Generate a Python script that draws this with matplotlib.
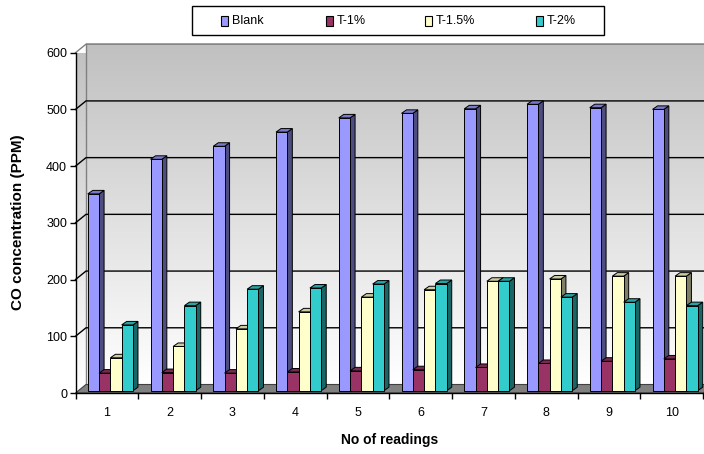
import numpy as np
import matplotlib
matplotlib.use("Agg")
import matplotlib.pyplot as plt
from matplotlib.patches import Polygon, Rectangle
from matplotlib.lines import Line2D

plt.rcParams["font.family"] = ["Liberation Sans", "DejaVu Sans"]

# ---- data -------------------------------------------------------------
readings = [1, 2, 3, 4, 5, 6, 7, 8, 9, 10]
series_names = ["Blank", "T-1%", "T-1.5%", "T-2%"]
blank = [347, 408, 431, 456, 481, 489, 497, 505, 499, 496]
t_1 = [31, 32, 31, 33, 35, 37, 41, 48, 52, 56]
t_1_5 = [58, 78, 109, 139, 165, 178, 193, 197, 202, 202]
t_2 = [116, 150, 179, 181, 188, 189, 193, 165, 156, 150]
y_ticks = [0, 100, 200, 300, 400, 500, 600]

series_values = [blank, t_1, t_1_5, t_2]
front_colors = ["#9999FF", "#993366", "#FFFFCC", "#33CCCC"]
side_colors = ["#4D4D80", "#4D1A33", "#808066", "#1A6666"]
top_colors = ["#7A7ACC", "#7A2952", "#CCCCA3", "#29A3A3"]

# ---- figure / axes ----------------------------------------------------
W, H = 704, 454
fig = plt.figure(figsize=(W / 100, H / 100), dpi=100)
ax_left, ax_right, ax_bottom, ax_top = 75.5, 703.0, 393.0, 52.7
ax = fig.add_axes([ax_left / W, 1 - ax_bottom / H,
                   (ax_right - ax_left) / W, (ax_bottom - ax_top) / H])
x0, x1 = 0.5, len(readings) + 0.5
ax.set_xlim(x0, x1)
ax.set_ylim(0, 600)

# pixel -> data conversion
ux = (x1 - x0) / (ax_right - ax_left)
uy = 600.0 / (ax_bottom - ax_top)

# wall depth (perspective offset)
wdx, wdy = 10.5 * ux, 8.5 * uy

# back wall with vertical gradient
grad = np.linspace(192, 255, 256)[:, None] / 255.0
grad_img = np.dstack([grad, grad, grad])
back = ax.imshow(grad_img, extent=(x0 + wdx, x1 + 3 * wdx, wdy, 600 + wdy),
                 origin="upper", aspect="auto", zorder=0, clip_on=False,
                 interpolation="bilinear")
# side wall, same gradient clipped to a parallelogram
side_poly = Polygon([(x0, 0), (x0, 600), (x0 + wdx, 600 + wdy), (x0 + wdx, wdy)],
                    closed=True, facecolor="none", edgecolor="none",
                    transform=ax.transData)
side = ax.imshow(grad_img, extent=(x0, x0 + wdx, 0, 600 + wdy),
                 origin="upper", aspect="auto", zorder=0, clip_on=True,
                 interpolation="bilinear")
side.set_clip_path(side_poly)

# wall outlines
ax.add_line(Line2D([x0 + wdx, x0 + wdx], [wdy, 600 + wdy], color="#808080",
                   lw=1.0, zorder=1, clip_on=False))
ax.add_line(Line2D([x0, x0 + wdx, x1 + 3 * wdx], [600, 600 + wdy, 600 + wdy],
                   color="#808080", lw=1.0, zorder=1, clip_on=False))

# gridlines on side and back wall
for v in y_ticks[1:-1]:
    ax.add_line(Line2D([x0, x0 + wdx, x1 + 3 * wdx], [v, v + wdy, v + wdy],
                       color="black", lw=1.0, zorder=1, clip_on=False))

# floor
floor = Polygon([(x0, 0), (x1, 0), (x1 + wdx, wdy), (x0 + wdx, wdy)],
                closed=True, facecolor="#808080", edgecolor="#404040",
                lw=0.8, zorder=2, clip_on=False)
ax.add_patch(floor)

# ---- 3D columns -------------------------------------------------------
bw = 11.3 * ux                  # bar width
bdx, bdy = 5.0 * ux, 3.5 * uy   # bar depth
shift_x, shift_y = 3.5 * ux, 2.3 * uy
group_left = -2 * bw + shift_x

x = np.array(readings, dtype=float)
for j, (name, vals) in enumerate(zip(series_names, series_values)):
    lefts = x + group_left + j * bw
    bars = ax.bar(lefts, vals, width=bw, bottom=shift_y, align="edge",
                  color=front_colors[j], edgecolor="black", lw=0.7,
                  label=name, clip_on=False)
    for i, rect in enumerate(bars):
        z = 10 + i * 10 + j * 2
        rect.set_zorder(z + 1)
        l = rect.get_x()
        r = l + rect.get_width()
        b = rect.get_y()
        t = b + rect.get_height()
        side_face = Polygon([(r, b), (r + bdx, b + bdy), (r + bdx, t + bdy), (r, t)],
                            closed=True, facecolor=side_colors[j],
                            edgecolor="black", lw=0.7, zorder=z, clip_on=False)
        top_face = Polygon([(l, t), (r, t), (r + bdx, t + bdy), (l + bdx, t + bdy)],
                           closed=True, facecolor=top_colors[j],
                           edgecolor="black", lw=0.7, zorder=z, clip_on=False)
        ax.add_patch(side_face)
        ax.add_patch(top_face)

# ---- axes styling -----------------------------------------------------
for s in ("top", "right"):
    ax.spines[s].set_visible(False)
for s in ("left", "bottom"):
    ax.spines[s].set_color("black")
    ax.spines[s].set_linewidth(1.0)
    ax.spines[s].set_zorder(200)

ax.set_yticks(y_ticks)
ax.set_yticklabels([str(v) for v in y_ticks])
ax.tick_params(axis="y", direction="out", length=4.5, width=1.0,
               labelsize=9, pad=1.5, colors="black")

ax.set_xticks(readings)
ax.set_xticklabels([str(r) for r in readings])
ax.set_xticks(np.arange(x0, x1 + 0.01, 1.0), minor=True)
ax.tick_params(axis="x", which="major", length=0, labelsize=9, pad=10)
ax.tick_params(axis="x", which="minor", direction="out", length=4, width=1.0)

fig.text(390 / W, 1 - 440 / H, "No of readings", ha="center", va="center",
         fontsize=10, fontweight="bold")
fig.text(18 / W, 1 - 222 / H, "CO concentration (PPM)", ha="center",
         va="center", rotation=90, fontsize=11, fontweight="bold")

# ---- legend box -------------------------------------------------------
fig.patches.append(Rectangle((192 / W, 1 - 35 / H), (604 - 192) / W, 29 / H,
                             transform=fig.transFigure, facecolor="white",
                             edgecolor="black", lw=1.0))
marker_lefts = [221, 326, 425, 536]
for name, col, mx in zip(series_names, front_colors, marker_lefts):
    fig.patches.append(Rectangle((mx / W, 1 - 25.5 / H), 7 / W, 9 / H,
                                 transform=fig.transFigure, facecolor=col,
                                 edgecolor="black", lw=0.8))
    fig.text((mx + 11) / W, 1 - 21 / H, name, ha="left", va="center",
             fontsize=9)

fig.savefig("out.png", dpi=100)
